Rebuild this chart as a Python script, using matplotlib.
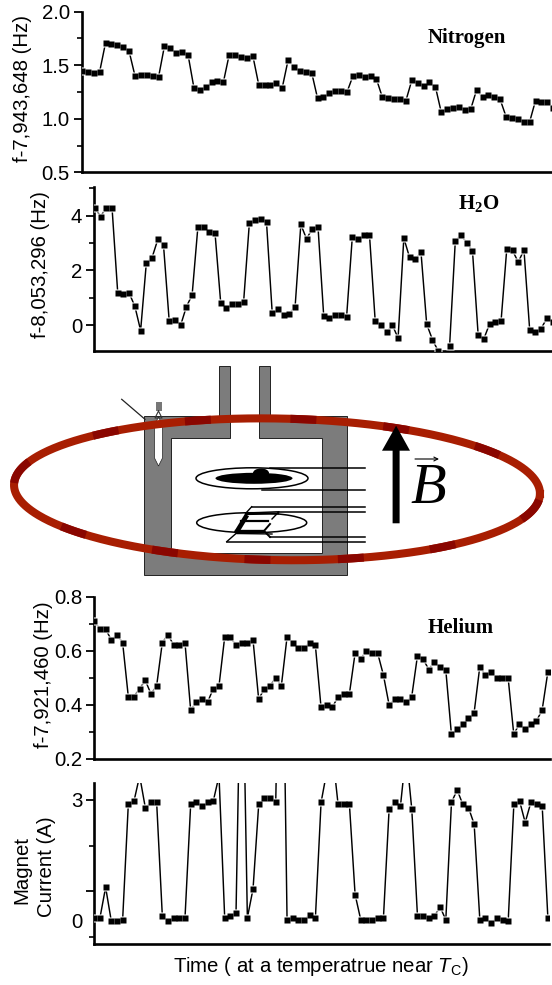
import numpy as np
import matplotlib
matplotlib.use("Agg")
import matplotlib.pyplot as plt
from matplotlib.patches import Polygon, Ellipse, Rectangle

plt.rcParams['font.family'] = ['Liberation Sans', 'DejaVu Sans']
plt.rcParams['mathtext.fontset'] = 'custom'
plt.rcParams['mathtext.rm'] = 'Liberation Sans'
plt.rcParams['mathtext.it'] = 'Liberation Sans:italic'
plt.rcParams['mathtext.bf'] = 'Liberation Serif:bold'

nitrogen = [1.45,1.44,1.43,1.44,
            1.71,1.70,1.69,1.67,1.63,
            1.40,1.41,1.41,1.40,1.39,
            1.68,1.66,1.61,1.62,1.60,
            1.29,1.27,1.30,1.34,1.35,1.34,
            1.60,1.60,1.58,1.57,1.59,
            1.32,1.32,1.32,1.33,1.29,
            1.55,1.48,1.45,1.44,1.43,
            1.19,1.20,1.24,1.26,1.26,1.25,
            1.40,1.41,1.39,1.40,1.37,
            1.20,1.19,1.18,1.18,1.17,
            1.36,1.33,1.31,1.34,1.30,
            1.06,1.09,1.10,1.11,1.08,1.09,
            1.27,1.20,1.22,1.20,1.18,
            1.02,1.01,1.00,0.97,0.97,
            1.17,1.16,1.16,1.10]
water = [4.3,3.97,4.3,4.3,1.17,1.14,1.17,0.68,-0.2,2.28,2.47,3.13,2.92,0.13,0.18,0.0,
         0.67,1.1,3.57,3.58,3.42,3.37,0.8,0.62,0.77,0.78,0.85,3.72,3.85,3.87,3.76,
         0.44,0.58,0.35,0.42,0.67,3.68,3.15,3.53,3.6,0.33,0.24,0.36,0.36,0.3,
         3.23,3.15,3.3,3.3,0.14,0.0,-0.25,0.0,-0.48,3.18,2.48,2.4,2.67,0.03,-0.53,
         -0.95,-1.3,-0.77,3.08,3.3,3.0,2.72,-0.38,-0.5,0.05,0.12,0.15,2.8,2.73,2.3,
         2.75,-0.18,-0.27,-0.13,0.25,0.1]
helium = [0.71,0.68,0.68,0.64,0.66,0.63,0.43,0.43,0.46,0.49,0.44,0.47,0.63,0.66,0.62,0.62,
          0.63,0.38,0.41,0.42,0.41,0.46,0.47,0.65,0.65,0.62,0.63,0.63,0.64,0.42,0.46,
          0.47,0.50,0.47,0.65,0.63,0.61,0.61,0.63,0.62,0.39,0.40,0.39,0.43,0.44,0.44,
          0.59,0.57,0.60,0.59,0.59,0.51,0.40,0.42,0.42,0.41,0.43,0.58,0.57,0.53,0.56,
          0.54,0.53,0.29,0.31,0.33,0.35,0.37,0.54,0.51,0.52,0.50,0.50,0.50,0.29,0.33,
          0.31,0.33,0.34,0.38,0.52]
current = [0.07,0.07,0.83,-0.01,-0.01,0.02,2.89,2.97,3.6,2.81,2.94,2.94,0.12,-0.01,0.07,0.07,
           0.07,2.89,2.94,2.85,2.94,2.98,3.6,0.07,0.12,0.2,8.0,0.07,0.79,2.89,3.04,3.04,
           2.94,10.0,0.02,0.07,0.02,0.02,0.15,0.07,2.94,3.7,4.2,2.89,2.89,2.89,0.65,0.02,
           0.02,0.02,0.07,0.07,2.77,2.94,2.85,4.2,2.77,0.12,0.12,0.07,0.12,0.34,0.02,2.94,
           3.25,2.89,2.81,2.4,0.02,0.07,-0.06,0.07,0.02,-0.02,2.89,2.98,2.44,2.94,2.89,2.85,0.07]

y_labels = ["f-7,943,648 (Hz)", "f-8,053,296 (Hz)", "f-7,921,460 (Hz)"]
y_label_pos = [(23, 89), (40.5, 264.5), (44, 675)]
x_label = r"Time ( at a temperatrue near $\mathit{T}_{\mathrm{C}}$)"

W, H = 552, 985
fig = plt.figure(figsize=(W / 100, H / 100), dpi=100, facecolor='white')


def panel(left, right, top, bottom):
    ax = fig.add_axes([left / W, 1 - bottom / H, (right - left) / W, (bottom - top) / H])
    for s in ('top', 'right'):
        ax.spines[s].set_visible(False)
    for s in ('left', 'bottom'):
        ax.spines[s].set_linewidth(1.9)
    ax.xaxis.set_visible(False)
    ax.tick_params(axis='y', which='major', length=6, width=1.3, labelsize=14.7, pad=2.5)
    ax.tick_params(axis='y', which='minor', length=3.5, width=1.2)
    return ax


def series(ax, y):
    x = np.arange(len(y))
    ax.plot(x, y, color='black', lw=1.05, zorder=2)
    ax.plot(x, y, ls='none', marker='s', ms=6.0, mfc='white', mec='none', zorder=3)
    ax.plot(x, y, ls='none', marker='s', ms=4.1, mfc='black', mec='none', zorder=4)


# Nitrogen
a1 = panel(81.7, 552, 11.7, 172.3)
series(a1, nitrogen)
a1.set_xlim(-0.05, 79.8)
a1.set_ylim(0.5, 2.0)
a1.set_yticks([0.5, 1.0, 1.5, 2.0], ['0.5', '1.0', '1.5', '2.0'])
a1.set_yticks([0.75, 1.25, 1.75], minor=True)

# Water
a2 = panel(94, 552, 187.3, 351)
series(a2, water)
a2.set_xlim(-0.15, 79.9)
a2.set_ylim(-0.95, 5.04)
a2.set_yticks([0, 2, 4], ['0', '2', '4'])
a2.set_yticks([1, 3, 5], minor=True)

# Helium
a3 = panel(94, 549.5, 596.7, 758.7)
series(a3, helium)
a3.set_xlim(-0.05, 80.3)
a3.set_ylim(0.2, 0.8)
a3.set_yticks([0.2, 0.4, 0.6, 0.8], ['0.2', '0.4', '0.6', '0.8'])
a3.set_yticks([0.3, 0.5, 0.7], minor=True)

# Magnet current
a4 = panel(94, 549, 782.7, 944)
series(a4, current)
a4.set_xlim(-0.05, 80.2)
a4.set_ylim(-0.58, 3.43)
a4.set_yticks([3, 0.73, 0], ['3', '', '0'])
a4.set_yticks([1.85, -0.4], minor=True)
a4.yaxis.get_major_ticks()[2].tick1line.set_visible(False)

for lab, (xp, yp) in zip(y_labels, y_label_pos):
    fig.text(xp / W, 1 - yp / H, lab, rotation=90, ha='center', va='center', fontsize=14.7)
fig.text(22 / W, 1 - 870 / H, "Magnet", rotation=90, ha='center', va='center', fontsize=14.7)
fig.text(47 / W, 1 - 867 / H, "Current (A)", rotation=90, ha='center', va='center', fontsize=14.7)
fig.text(320.5 / W, 1 - 967 / H, x_label, ha='center', va='center', fontsize=14.7)

serif = ['Liberation Serif', 'DejaVu Serif']
fig.text(467 / W, 1 - 38 / H, "Nitrogen", ha='center', va='center', fontsize=15, fontweight='bold', family=serif)
fig.text(478.5 / W, 1 - 204 / H, r"$\mathbf{H_2O}$", ha='center', va='center', fontsize=15)
fig.text(460.5 / W, 1 - 628 / H, "Helium", ha='center', va='center', fontsize=15, fontweight='bold', family=serif)

# ---- schematic between the panels, in pixel coordinates ----
d = fig.add_axes([0, 0, 1, 1], zorder=5)
d.set_xlim(0, W)
d.set_ylim(H, 0)
d.axis('off')
d.patch.set_alpha(0)

gray = '#7c7c7c'
box_outline = [(144.3, 416), (219, 416), (219, 365.7), (230, 365.7), (230, 438.3), (171, 438.3), (171, 552.7),
               (322, 552.7), (322, 438.3), (259, 438.3), (259, 365.7), (270, 365.7), (270, 416), (346.7, 416),
               (346.7, 575), (144.3, 575)]
d.add_patch(Polygon(box_outline, closed=True, fc=gray, ec='#222222', lw=0.7, zorder=1))
tube = [(154.5, 425), (158.5, 417), (162.5, 425), (162.5, 458), (158.5, 466), (154.5, 458)]
d.add_patch(Polygon(tube, closed=True, fc='white', ec='#222222', lw=0.5, zorder=2))
d.plot([121.7, 145], [399.3, 419.3], color='#222222', lw=0.9, zorder=2)
d.add_patch(Rectangle((155.5, 402), 6, 9, fc='#777777', ec='none', zorder=2))
d.plot([158.5, 155, 162, 158.5], [411, 418, 418, 411], color='#333333', lw=0.8, zorder=2)

# sensors
d.add_patch(Ellipse((252, 478.3), 112, 21, fc='white', ec='black', lw=1.1, zorder=2))
d.add_patch(Ellipse((254, 478.3), 77, 11, fc='black', ec='none', zorder=3))
d.add_patch(Ellipse((261, 473), 16, 9, fc='black', ec='none', zorder=3))
d.add_patch(Ellipse((251.7, 522.7), 110, 20, fc='white', ec='black', lw=1.1, zorder=2))
wires = [(270, 467.7), (262, 490.3), (251.7, 506.7), (279, 511.7), (270, 537.3), (226.7, 541.7)]
for x0, y0 in wires:
    d.plot([x0, 365], [y0, y0], color='black', lw=1.1, zorder=4)
d.plot([251.7, 246, 279, 272], [506.7, 513, 511.7, 519], color='black', lw=1.0, zorder=4)
d.plot([226.7, 236, 272], [541.7, 533.5, 534], color='black', lw=1.0, zorder=4)
d.plot([247, 236], [515, 533], color='black', lw=3.4, zorder=4, solid_capstyle='butt')
d.plot([246, 278], [514, 513.5], color='black', lw=1.6, zorder=4)
d.plot([236, 262], [531, 531], color='black', lw=2.4, zorder=4)
d.plot([270, 264, 270], [524, 531, 537], color='black', lw=1.4, zorder=4)
d.plot([241, 268], [520.5, 520.5], color='black', lw=1.6, zorder=4)

# magnet ring
cx, cy, ra, rb, tilt = 277, 489.3, 263, 70.8, np.radians(1.0)
dark_centres = [107.8, 84.5, 63.3, 37, -13, -50.6, -73.4, -94, -115, -140.6, 169.7, 131]


def ring_xy(t):
    x = ra * np.cos(t)
    y = -rb * np.sin(t)
    return (cx + x * np.cos(tilt) - y * np.sin(tilt), cy + x * np.sin(tilt) + y * np.cos(tilt))


tt = np.linspace(0, 2 * np.pi, 720)
d.plot(*ring_xy(tt), color='#A81E02', lw=5.8, zorder=6, solid_joinstyle='round')
for c in dark_centres:
    t0 = np.radians(c)
    speed = np.hypot(ra * np.sin(t0), rb * np.cos(t0))
    ts = np.linspace(t0 - 13 / speed, t0 + 13 / speed, 24)
    d.plot(*ring_xy(ts), color='#8A0600', lw=5.8, zorder=7, solid_capstyle='butt')

# field arrow
arrow = [(392.6, 523.3), (399.6, 523.3), (399.6, 450.7), (410, 450.7), (396.1, 425.7), (382, 450.7), (392.6, 450.7)]
d.add_patch(Polygon(arrow, closed=True, fc='black', ec='none', zorder=8))
d.text(428, 489, "B", family=serif, style='italic', fontsize=42, ha='center', va='center', zorder=8)
d.annotate('', xy=(439, 459), xytext=(415, 459), zorder=8,
           arrowprops=dict(arrowstyle='->', lw=0.8, color='black', mutation_scale=7, shrinkA=0, shrinkB=0))

fig.savefig('out.png', dpi=100, facecolor='white')
